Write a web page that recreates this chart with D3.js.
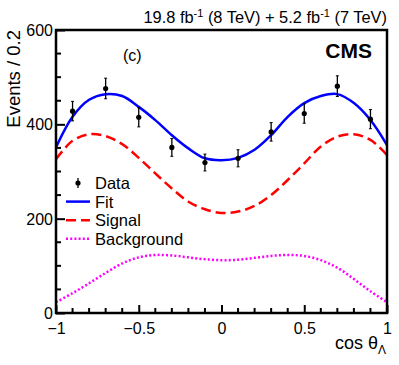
<!DOCTYPE html>
<html><head><meta charset="utf-8">
<script src="https://cdn.jsdelivr.net/npm/d3@7/dist/d3.min.js"></script>
<style>body{margin:0;background:#fff}svg{display:block}text{font-family:"Liberation Sans",Arial,sans-serif}</style>
</head><body><svg id="c" width="399" height="365"></svg>
<script>
const binCenters = [-0.9,-0.7,-0.5,-0.3,-0.1,0.1,0.3,0.5,0.7,0.9];
const dataCounts = [428,476,415,351,319,328,384,423,481,411];
const curveX = [-1,-0.9,-0.8,-0.7,-0.6,-0.5,-0.4,-0.3,-0.2,-0.1,0,0.1,0.2,0.3,0.4,0.5,0.6,0.7,0.8,0.9,1];
const fitVals = [351,416,452,464,460,437,409,377,349,328,324,329,346,377,416,445,460,464,445,409,356];
const signalVals = [326,365,379,375,358,329,296,264,236,220,212,215,227,250,282,317,353,374,379,367,335];
const bkgVals = [23,42,63,85,105,118,123,122,118,114,112,113,117,121,123,121,112,96,72,46,23];
const xTicks = [-1,-0.5,0,0.5,1];
const yTicks = [0,200,400,600];
const legendLabels = ["Data","Fit","Signal","Background"];

const svg = d3.select("#c");
const L=56,R=387,T=30,B=313;
const x = d3.scaleLinear().domain([-1,1]).range([L,R]);
const y = d3.scaleLinear().domain([0,600]).range([B,T]);

svg.append("clipPath").attr("id","pc").append("rect").attr("x",L).attr("y",T).attr("width",R-L).attr("height",B-T);
const g = svg.append("g").attr("clip-path","url(#pc)");
const line = vals => d3.line().x((d,i)=>x(curveX[i])).y(d=>y(d)).curve(d3.curveCatmullRom.alpha(0.5))(vals);

g.append("path").attr("d",line(bkgVals)).attr("fill","none").attr("stroke","#ff00ff").attr("stroke-width",2.5).attr("stroke-dasharray","2,2.2");
g.append("path").attr("d",line(signalVals)).attr("fill","none").attr("stroke","#ff0000").attr("stroke-width",2.5).attr("stroke-dasharray","10,5");
g.append("path").attr("d",line(fitVals)).attr("fill","none").attr("stroke","#0000ff").attr("stroke-width",2.5);

// data points
const pts = svg.append("g");
binCenters.forEach((c,i)=>{
  const n=dataCounts[i], e=Math.sqrt(n);
  pts.append("line").attr("x1",x(c)).attr("x2",x(c)).attr("y1",y(n+e)).attr("y2",y(n-e)).attr("stroke","#000").attr("stroke-width",1.3);
  [n+e,n-e].forEach(v=>pts.append("line").attr("x1",x(c)-1.5).attr("x2",x(c)+1.5).attr("y1",y(v)).attr("y2",y(v)).attr("stroke","#000").attr("stroke-width",1));
  pts.append("circle").attr("cx",x(c)).attr("cy",y(n)).attr("r",2.6).attr("fill","#000");
});

// axes
const xAxis = d3.axisBottom(x).tickValues(xTicks).tickSize(-8).tickPadding(10).tickFormat(d=>d===0?"0":String(d).replace("-","\u2212"));
const xg = svg.append("g").attr("transform",`translate(0,${B})`).call(xAxis);
const xMinor = d3.range(-10,11).map(d=>d/10).filter(d=>Math.abs(d*2-Math.round(d*2))>1e-6);
svg.append("g").selectAll("line").data(xMinor).join("line").attr("x1",d=>x(d)).attr("x2",d=>x(d)).attr("y1",B).attr("y2",B-5).attr("stroke","#000").attr("stroke-width",2);
const yAxis = d3.axisLeft(y).tickValues(yTicks).tickSize(-9).tickPadding(3);
const yg = svg.append("g").attr("transform",`translate(${L},0)`).call(yAxis);
const yMinor = d3.range(0,601,50).filter(d=>d%200!==0);
svg.append("g").selectAll("line").data(yMinor).join("line").attr("x1",L).attr("x2",L+5).attr("y1",d=>y(d)).attr("y2",d=>y(d)).attr("stroke","#000").attr("stroke-width",2);
[xg,yg].forEach(a=>{a.select(".domain").remove();a.selectAll(".tick line").attr("stroke-width",2);a.selectAll("text").attr("font-size",16).attr("fill","#000").attr("font-family","Liberation Sans, Arial, sans-serif");});
xg.selectAll("text").attr("dy","0.71em");
yg.selectAll("text").attr("dy","0.34em");
// frame
svg.append("rect").attr("x",L).attr("y",T).attr("width",R-L).attr("height",B-T).attr("fill","none").attr("stroke","#000").attr("stroke-width",2.5);

// titles
svg.append("text").attr("transform",`translate(20,${T}) rotate(-90)`).attr("text-anchor","end").attr("font-size",18.5).text("Events / 0.2");
const xl = svg.append("text").attr("x",R-1).attr("y",349).attr("text-anchor","end").attr("font-size",18);
xl.append("tspan").text("cos \u03b8");
xl.append("tspan").attr("font-size",12).attr("dy",5).text("\u039b");

const hdr = svg.append("text").attr("x",R).attr("y",23).attr("text-anchor","end").attr("font-size",16.4);
hdr.append("tspan").text("19.8 fb");
hdr.append("tspan").attr("font-size",11).attr("dy",-6).text("-1");
hdr.append("tspan").attr("dy",6).text(" (8 TeV) + 5.2 fb");
hdr.append("tspan").attr("font-size",11).attr("dy",-6).text("-1");
hdr.append("tspan").attr("dy",6).text(" (7 TeV)");

svg.append("text").attr("x",372).attr("y",58).attr("text-anchor","end").attr("font-size",21).attr("font-weight","bold").text("CMS");
svg.append("text").attr("x",123).attr("y",61).attr("font-size",16).text("(c)");

// legend
const lg = svg.append("g");
const ly0=183, ldy=18.6;
const styles=[null,{c:"#0000ff",d:null},{c:"#ff0000",d:"10,5"},{c:"#ff00ff",d:"2,2.2"}];
legendLabels.forEach((lab,i)=>{
  const yy=ly0+i*ldy;
  if(i===0){
    lg.append("line").attr("x1",78).attr("x2",78).attr("y1",yy-5).attr("y2",yy+5).attr("stroke","#000").attr("stroke-width",1.3);
    lg.append("circle").attr("cx",78).attr("cy",yy).attr("r",2.6).attr("fill","#000");
  } else {
    lg.append("line").attr("x1",66).attr("x2",90).attr("y1",yy).attr("y2",yy).attr("stroke",styles[i].c).attr("stroke-width",2.5).attr("stroke-dasharray",styles[i].d);
  }
  lg.append("text").attr("x",95).attr("y",yy).attr("dy","0.36em").attr("font-size",16.5).text(lab);
});
</script></body></html>
